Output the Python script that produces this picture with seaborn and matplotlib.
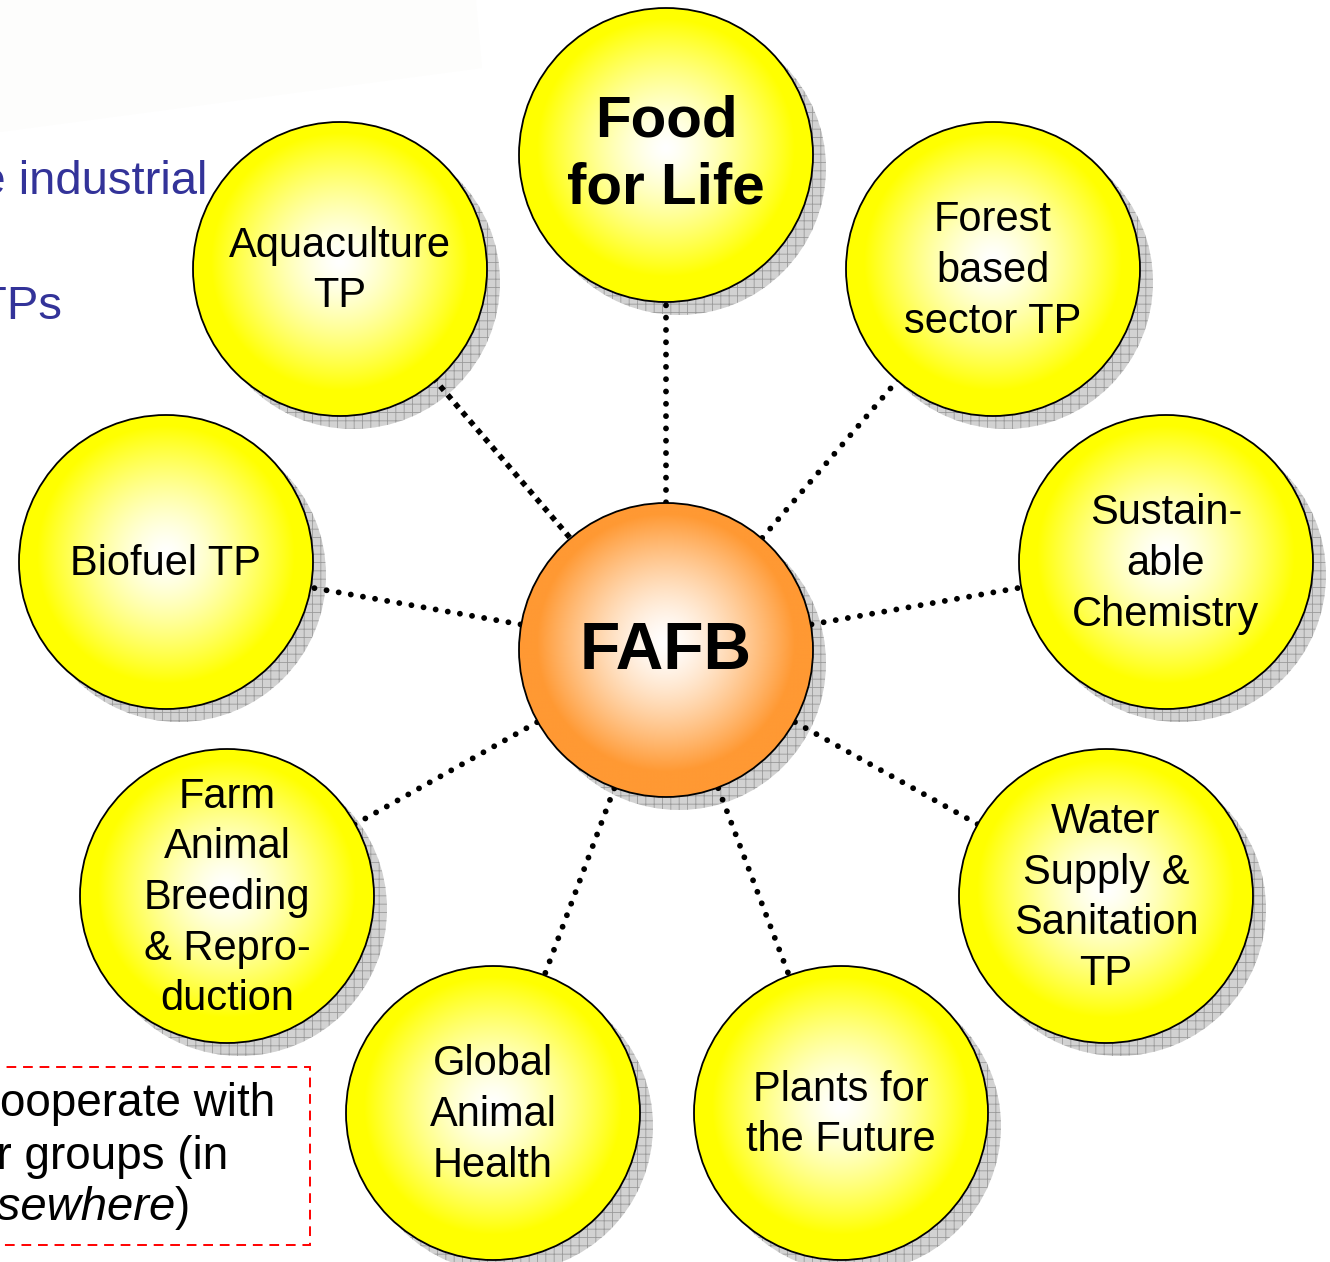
import numpy as np
import seaborn as sns
import matplotlib.pyplot as plt
from matplotlib.patches import Circle, Rectangle, Polygon

# hub and surrounding platforms (pixel coordinates of the slide)
hub_label = "FAFB"
hub_x, hub_y = 666, 650

node_labels = ["Food\nfor Life", "Forest\nbased\nsector TP", "Sustain-\nable\nChemistry",
               "Water\nSupply &\nSanitation\nTP", "Plants for\nthe Future",
               "Global\nAnimal\nHealth", "Farm\nAnimal\nBreeding\n& Repro-\nduction",
               "Biofuel TP", "Aquaculture\nTP"]
node_x = [666, 993, 1166, 1106, 841, 493, 227, 166, 340]
node_y = [155, 269, 562, 896, 1113, 1113, 896, 562, 269]

side_lines = ["the industrial", "TPs"]
note_lines = ["cooperate with", "er groups (in", "elsewhere"]

R = 147
W, H = 1330, 1262

sns.set_theme(style="white")
plt.rcParams["font.family"] = ["Liberation Sans", "DejaVu Sans"]
plt.rcParams["hatch.linewidth"] = 0.6

fig = plt.figure(figsize=(W / 100, H / 100), dpi=100)
ax = fig.add_axes([0, 0, 1, 1])
ax.set_axis_off()


def ball(cx, cy, edge_rgb):
    # grey hatched shadow
    sh = Circle((cx + 13, cy + 13), R, facecolor="#d2d2d2", edgecolor="#9a9a9a",
                hatch="++", linewidth=0, zorder=1)
    ax.add_patch(sh)
    circ = Circle((cx, cy), R, facecolor="none", edgecolor="black", linewidth=1.3, zorder=4)
    ax.add_patch(circ)
    n = 300
    g = np.linspace(-1, 1, n)
    xx, yy = np.meshgrid(g, g)
    d = np.sqrt(xx ** 2 + (yy + 0.05) ** 2)
    f = np.clip(d / 0.88, 0, 1) ** 1.4
    edge = np.array(edge_rgb)
    img = np.ones((n, n, 3)) * (1 - f[..., None]) + edge * f[..., None]
    im = ax.imshow(img, extent=(cx - R, cx + R, cy + R, cy - R), interpolation="bilinear",
                   zorder=3)
    im.set_clip_path(circ)


# faint background shape from the slide
ax.add_patch(Polygon([(0, 0), (476, 0), (482, 68), (0, 132)], closed=True,
                     facecolor="#fdfdfc", edgecolor="none", zorder=0))

# dotted spokes
for x, y, lab in zip(node_x, node_y, node_labels):
    if lab.startswith("Aqua"):
        ax.plot([hub_x, x], [hub_y, y], color="black", linewidth=4.0,
                linestyle=(0, (1, 1.05)), dash_capstyle="butt", zorder=2)
    else:
        ax.plot([hub_x, x], [hub_y, y], color="black", linewidth=4.2,
                linestyle=(0, (0.01, 2.1)), dash_capstyle="round", zorder=2)

yellow = (1.0, 1.0, 0.0)
orange = (1.0, 0.6, 0.2)
for x, y, lab in zip(node_x, node_y, node_labels):
    ball(x, y, yellow)
    if lab.startswith("Food"):
        ax.text(x, y, lab, ha="center", va="center", ma="center", fontsize=42,
                fontweight="bold", color="black", zorder=5, linespacing=1.33)
    else:
        ax.text(x, y + 2, lab, ha="center", va="center", ma="center", fontsize=30,
                color="black", zorder=5, linespacing=1.34)

ball(hub_x, hub_y, orange)
ax.text(hub_x, hub_y + 2, hub_label, ha="center", va="center", fontsize=47.5,
        fontweight="bold", color="black", zorder=5)

# partially visible slide text on the left
ax.text(207, 182, side_lines[0], ha="right", va="center", fontsize=34, color="#333399", zorder=0.5)
ax.text(62, 307, side_lines[1], ha="right", va="center", fontsize=34, color="#333399", zorder=0.5)

# dashed note box
ax.add_patch(Rectangle((-10, 1067), 320, 178, facecolor="white", edgecolor="#ff0000",
                       linewidth=1.4, linestyle=(0, (5, 3.5)), zorder=6))
ax.text(275, 1104, note_lines[0], ha="right", va="center", fontsize=33, color="black", zorder=7)
ax.text(228, 1157, note_lines[1], ha="right", va="center", fontsize=33, color="black", zorder=7)
ax.text(190, 1208, ")", ha="right", va="center", fontsize=33, color="black", zorder=7)
ax.text(176, 1208, note_lines[2], ha="right", va="center", fontsize=34, style="italic",
        color="black", zorder=7)

ax.set_xlim(0, W)
ax.set_ylim(H, 0)
ax.set_aspect("auto")
fig.savefig("out.png", dpi=100, facecolor="white")
